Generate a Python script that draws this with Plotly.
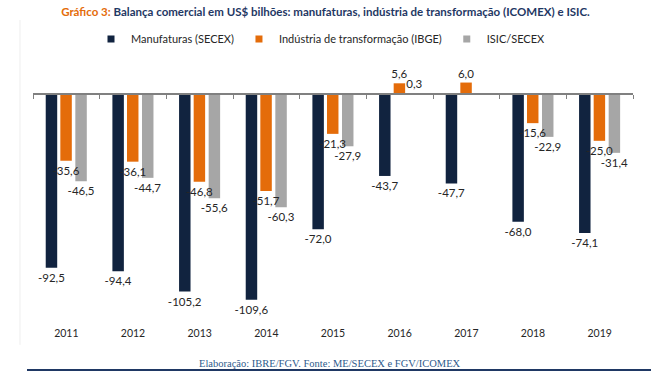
import plotly.graph_objects as go

years = ["2011", "2012", "2013", "2014", "2015", "2016", "2017", "2018", "2019"]
manufaturas = [-92.5, -94.4, -105.2, -109.6, -72.0, -43.7, -47.7, -68.0, -74.1]
industria = [-35.6, -36.1, -46.8, -51.7, -21.3, 5.6, 6.0, -15.6, -25.0]
isic = [-46.5, -44.7, -55.6, -60.3, -27.9, 0.3, -0.5, -22.9, -31.4]

names = ["Manufaturas (SECEX)", "Indústria de transformação (IBGE)", "ISIC/SECEX"]
colors = ["#11233F", "#E46C0A", "#A6A6A6"]
series = [manufaturas, industria, isic]

FONT = "Lato, sans-serif"
BAR_W = 0.172
OFFSETS = [-0.309, -0.09, 0.135]


def fmt(v):
    return f"{v:.1f}".replace(".", ",")


YMIN, YMAX = -123, 18

fig = go.Figure()
# draw order: navy, gray, orange (so the orange labels sit on top of the gray bars)
for i in [0, 2, 1]:
    vals = series[i]
    texts = [fmt(v) for v in vals]
    if i == 2:
        texts[6] = ""  # labelled with a leader line below
    fig.add_trace(go.Bar(
        x=years, y=vals, name=names[i], marker_color=colors[i], marker_line_width=0,
        width=BAR_W, offset=OFFSETS[i],
        text=texts, textposition="outside", constraintext="none", cliponaxis=False,
        textfont=dict(size=11.5, color="#262626", family=FONT),
        showlegend=False,
    ))
for name, col in zip(names, colors):
    fig.add_trace(go.Scatter(
        x=[None], y=[None], mode="markers", name=name,
        marker=dict(symbol="square", size=7, color=col),
    ))

# helper axis carrying the zero line with boundary ticks
fig.add_trace(go.Scatter(x=years, y=[None] * len(years), xaxis="x2", showlegend=False,
                         hoverinfo="skip", mode="markers"))

fig.add_annotation(
    x="2017", y=isic[6], xref="x", yref="y", xshift=(OFFSETS[2] + BAR_W / 2) * 600 / 9,
    text=fmt(isic[6]), showarrow=True, arrowhead=0, arrowwidth=1, arrowcolor="#A6A6A6",
    ax=6, ay=22, font=dict(size=11.5, color="#262626", family=FONT),
)

fig.add_annotation(
    x=0.4956, y=-0.1434, xref="paper", yref="paper", showarrow=False,
    xanchor="center", yanchor="middle",
    text="Elaboração: IBRE/FGV. Fonte: ME/SECEX e FGV/ICOMEX",
    font=dict(size=10.5, color="#2E5A8C", family="Liberation Serif, serif"),
)

# bottom rule and faint left frame edge
fig.add_shape(type="line", xref="paper", yref="paper", x0=-0.01, x1=1.03, y0=-0.17, y1=-0.17,
              line=dict(color="#1F3864", width=2))
fig.add_shape(type="line", xref="paper", yref="paper", x0=-0.0217, x1=-0.0217, y0=1.151, y1=-0.075,
              line=dict(color="#EFEFEF", width=1))

fig.update_layout(
    width=651, height=373,
    margin=dict(l=33, r=18, t=60, b=48),
    paper_bgcolor="white", plot_bgcolor="white",
    barmode="overlay",
    font=dict(family=FONT, size=11, color="#262626"),
    title=dict(
        text="<b><span style='color:#E46C0A'>Gráfico 3:</span> Balança comercial em US$ bilhões: manufaturas, indústria de transformação (ICOMEX) e ISIC.</b>",
        x=0.5, xanchor="center", y=1 - 12 / 373, yanchor="middle",
        font=dict(size=11.5, color="#1F3864", family=FONT),
    ),
    legend=dict(orientation="h", x=0.48, xanchor="center", y=1.079, yanchor="middle",
                font=dict(size=11, color="#262626", family=FONT), itemwidth=30),
    xaxis=dict(type="category", categoryorder="array", categoryarray=years,
               showline=False, ticks="", showgrid=False, zeroline=False,
               tickfont=dict(size=10.5, color="#262626"), range=[-0.5, 8.5]),
    xaxis2=dict(type="category", categoryorder="array", categoryarray=years,
                overlaying="x", anchor="free", position=(0 - YMIN) / (YMAX - YMIN),
                side="bottom", showline=True, linecolor="#808080", linewidth=1.5,
                ticks="outside", tickson="boundaries", ticklen=4, tickcolor="#808080",
                showticklabels=False, showgrid=False, range=[-0.5, 8.5]),
    yaxis=dict(range=[YMIN, YMAX], visible=False, showgrid=False, zeroline=False),
)

fig.write_html("out.html", config={"displayModeBar": False},
               post_script="document.body.style.margin='0';")
